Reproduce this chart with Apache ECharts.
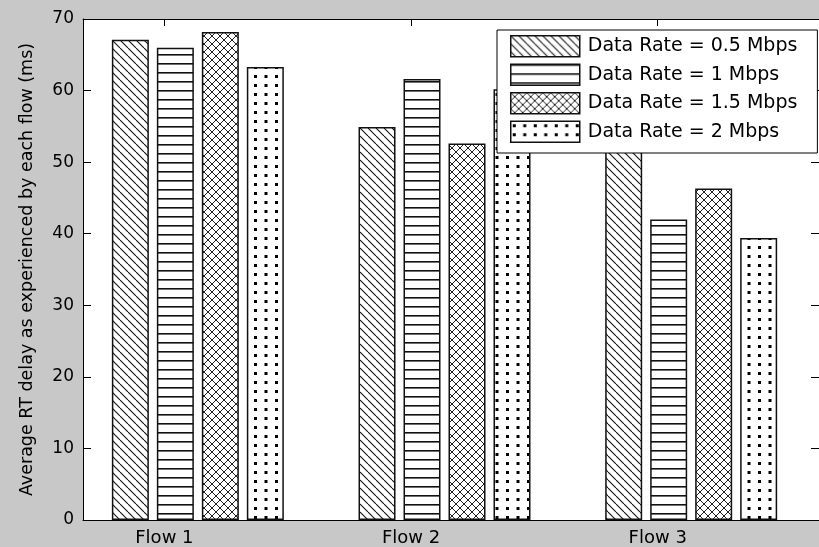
<!DOCTYPE html>
<html>
<head>
<meta charset="utf-8">
<script src="https://cdn.jsdelivr.net/npm/echarts@6/dist/echarts.min.js"></script>
<style>
  html, body { margin: 0; padding: 0; background: #c8c8c8; }
  #chart { width: 819px; height: 547px; }
</style>
</head>
<body>
<div id="chart"></div>
<script>
// Average round-trip delay per flow, grouped by data rate
const categories = ['Flow 1', 'Flow 2', 'Flow 3'];
const seriesNames = ['Data Rate = 0.5 Mbps', 'Data Rate = 1 Mbps', 'Data Rate = 1.5 Mbps', 'Data Rate = 2 Mbps'];
const rate05 = [67.1, 54.9, 57.0];
const rate1 = [66.0, 61.6, 42.0];
const rate15 = [68.2, 52.6, 46.3];
const rate2 = [63.3, 60.2, 39.4];
const yTicks = { min: 0, max: 70, step: 10 };
const yTitle = 'Average RT delay as experienced by each flow (ms)';

const FONT = 'DejaVu Sans';

// Monochrome hatch fills, built as repeating canvas tiles
function tile(w, h, draw) {
  const c = document.createElement('canvas');
  c.width = w; c.height = h;
  const ctx = c.getContext('2d');
  ctx.fillStyle = '#fff';
  ctx.fillRect(0, 0, w, h);
  draw(ctx, w, h);
  return { image: c, repeat: 'repeat' };
}
const hatchDiag = tile(8, 8, (ctx, w, h) => {
  ctx.strokeStyle = '#111'; ctx.lineWidth = 1.1;
  for (const x0 of [-w, 0, w]) {
    ctx.beginPath(); ctx.moveTo(x0, 0); ctx.lineTo(x0 + w, h); ctx.stroke();
  }
});
const hatchHoriz = tile(4, 9, (ctx, w) => {
  ctx.fillStyle = '#111'; ctx.fillRect(0, 0, w, 1.6);
});
const hatchCross = tile(8, 8, (ctx, w, h) => {
  ctx.strokeStyle = '#222'; ctx.lineWidth = 1.0;
  for (const x0 of [-w, 0, w]) {
    ctx.beginPath(); ctx.moveTo(x0, 0); ctx.lineTo(x0 + w, h); ctx.stroke();
    ctx.beginPath(); ctx.moveTo(x0 + w, 0); ctx.lineTo(x0, h); ctx.stroke();
  }
});
const hatchDots = tile(21, 9, (ctx) => {
  ctx.fillStyle = '#000';
  ctx.fillRect(2, 3, 3, 3);
  ctx.fillRect(12.5, 3, 3, 3);
});
const fills = [hatchDiag, hatchHoriz, hatchCross, hatchDots];
const values = [rate05, rate1, rate15, rate2];

// plot box geometry (pixels) and category spacing on the value x-axis
const gridLeft = 83, gridTop = 19, gridWidth = 737, gridHeight = 502;
const unitPx = 247;
const xMin = 1 - 81.5 / unitPx;
const xMax = xMin + gridWidth / unitPx;
const groupShift = 33.5 / unitPx;   // bar groups sit to the right of the tick
const tickPositions = categories.map((_, i) => i + 1);

const series = seriesNames.map((name, s) => ({
  name,
  type: 'bar',
  barWidth: 37,
  barGap: '21.6%',
  xAxisIndex: 0,
  yAxisIndex: 0,
  itemStyle: { color: fills[s], borderColor: '#111', borderWidth: 1.5 },
  emphasis: { disabled: true },
  data: values[s].map((v, i) => [i + 1 + groupShift, v])
}));

const axisLine = { show: true, onZero: false, lineStyle: { color: '#000', width: 1 } };

const option = {
  animation: false,
  backgroundColor: '#c8c8c8',
  grid: { left: gridLeft, top: gridTop, width: gridWidth, height: gridHeight,
          show: true, backgroundColor: '#fff', borderWidth: 0 },
  xAxis: [
    { type: 'value', position: 'bottom', min: xMin, max: xMax,
      axisLine,
      axisTick: { show: true, inside: true, length: 7, customValues: tickPositions,
                  lineStyle: { color: '#000' } },
      axisLabel: { customValues: tickPositions, margin: 9, fontSize: 18, fontFamily: FONT, color: '#000',
                   formatter: v => categories[Math.round(v) - 1] },
      splitLine: { show: false } },
    { type: 'value', position: 'top', min: xMin, max: xMax,
      axisLine,
      axisTick: { show: true, inside: true, length: 7, customValues: tickPositions,
                  lineStyle: { color: '#000' } },
      axisLabel: { show: false },
      splitLine: { show: false } }
  ],
  yAxis: [
    { type: 'value', position: 'left', min: yTicks.min, max: yTicks.max, interval: yTicks.step,
      name: yTitle, nameLocation: 'middle', nameGap: 47,
      nameTextStyle: { fontSize: 17.5, fontFamily: FONT, color: '#000' },
      axisLine,
      axisTick: { show: true, inside: true, length: 8, lineStyle: { color: '#000' } },
      axisLabel: { margin: 9, fontSize: 17, fontFamily: FONT, color: '#000' },
      splitLine: { show: false } },
    { type: 'value', position: 'right', min: yTicks.min, max: yTicks.max, interval: yTicks.step,
      axisLine,
      axisTick: { show: true, inside: true, length: 8, lineStyle: { color: '#000' } },
      axisLabel: { show: false },
      splitLine: { show: false } }
  ],
  legend: {
    orient: 'vertical', left: 497, top: 30,
    itemWidth: 69, itemHeight: 21, itemGap: 6,
    padding: [5, 20, 10, 13],
    backgroundColor: '#fff', borderColor: '#000', borderWidth: 1,
    icon: 'rect',
    itemStyle: { borderColor: '#111', borderWidth: 1.5 },
    textStyle: { fontSize: 19, fontFamily: FONT, color: '#000', padding: [0, 0, 0, 3] },
    selectedMode: false,
    data: seriesNames
  },
  series
};

const chart = echarts.init(document.getElementById('chart'), null, { renderer: 'canvas' });
chart.setOption(option);
</script>
</body>
</html>
